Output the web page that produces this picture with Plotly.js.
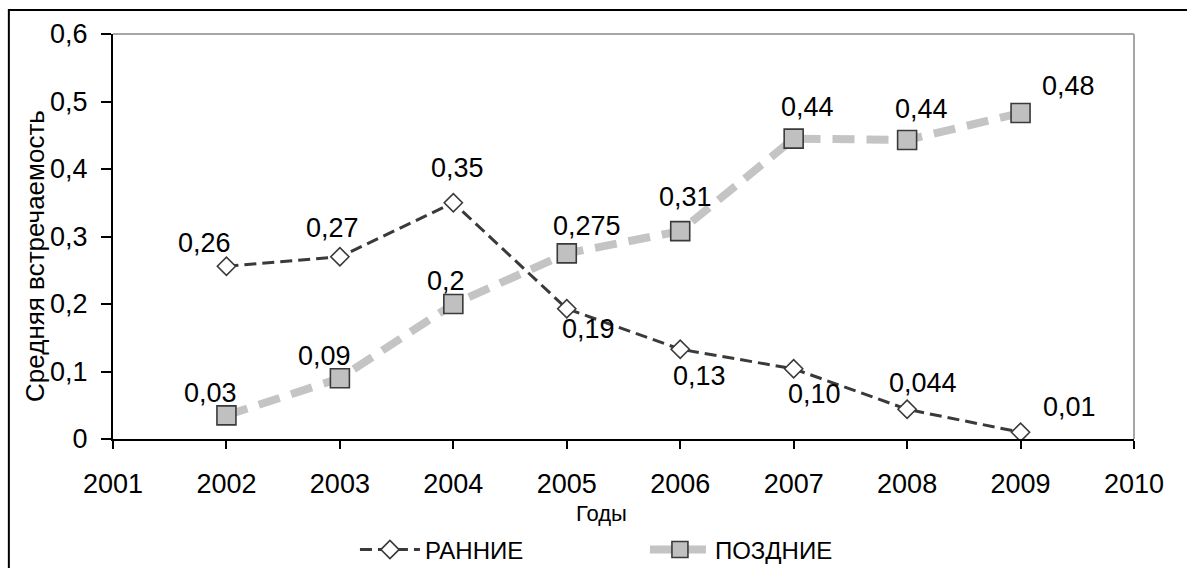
<!DOCTYPE html>
<html>
<head>
<meta charset="utf-8">
<script src="https://cdn.plot.ly/plotly-3.0.1.min.js"></script>
<style>html,body{margin:0;padding:0;background:#fff;}#chart{width:1187px;height:568px;}</style>
</head>
<body>
<div id="chart"></div>
<script>
// ---- data ----
var years = [2002, 2003, 2004, 2005, 2006, 2007, 2008, 2009];
var earlyValues = [0.256, 0.27, 0.35, 0.193, 0.133, 0.104, 0.044, 0.01];
var lateValues = [0.035, 0.09, 0.2, 0.275, 0.308, 0.445, 0.443, 0.483];
var earlyLabels = ["0,26", "0,27", "0,35", "0,19", "0,13", "0,10", "0,044", "0,01"];
var lateLabels = ["0,03", "0,09", "0,2", "0,275", "0,31", "0,44", "0,44", "0,48"];
var seriesNames = ["РАННИЕ", "ПОЗДНИЕ"];
var xTitle = "Годы";
var yTitle = "Средняя встречаемость";

// label offsets (px) – style only
var earlyShift = [[-22, 23], [-7, 29], [4, 35], [22, -20], [19, -27], [21, -25], [16, 26], [49, 25]];
var lateShift = [[-16, 22], [-15, 22], [-7, 23], [20, 27], [5, 34], [14, 32], [14, 31], [48, 27]];

var FONT = "Liberation Sans, Arial, sans-serif";

var traces = [
  {
    x: years, y: earlyValues, name: seriesNames[0], type: "scatter", mode: "lines+markers",
    line: {color: "#3a3a3a", width: 3, dash: "12px,6px"},
    marker: {symbol: "diamond", size: 14, color: "#ffffff", line: {color: "#3a3a3a", width: 1.6}}
  },
  {
    x: years, y: lateValues, name: seriesNames[1], type: "scatter", mode: "lines+markers",
    line: {color: "#c4c4c4", width: 8, dash: "22px,12px"},
    marker: {symbol: "square", size: 19, color: "#c0c0c0", line: {color: "#3a3a3a", width: 1.6}}
  }
];

var annotations = [];
function addLabels(vals, labels, shifts) {
  for (var i = 0; i < years.length; i++) {
    annotations.push({
      x: years[i], y: vals[i], xref: "x", yref: "y", text: labels[i], showarrow: false,
      xshift: shifts[i][0], yshift: shifts[i][1],
      font: {family: FONT, size: 27, color: "#000"}
    });
  }
}
addLabels(earlyValues, earlyLabels, earlyShift);
addLabels(lateValues, lateLabels, lateShift);
annotations.push({
  x: 0.478, y: -0.185, xref: "paper", yref: "paper", text: xTitle, showarrow: false,
  xanchor: "center", yanchor: "middle", font: {family: FONT, size: 22, color: "#000"}
});
annotations.push({
  x: -0.077, y: 0.453, xref: "paper", yref: "paper", text: yTitle, showarrow: false,
  textangle: -90, xanchor: "center", yanchor: "middle", font: {family: FONT, size: 26, color: "#000"}
});

var layout = {
  width: 1187, height: 568,
  margin: {l: 113, r: 53, t: 34, b: 129, autoexpand: false},
  paper_bgcolor: "#ffffff", plot_bgcolor: "#ffffff",
  separators: ", ",
  font: {family: FONT, color: "#000"},
  showlegend: true,
  legend: {
    orientation: "h", x: 0.521, xanchor: "center", y: -0.274, yanchor: "middle",
    font: {family: FONT, size: 24, color: "#000"}, itemwidth: 60, entrywidth: 215,
    bgcolor: "rgba(0,0,0,0)"
  },
  xaxis: {
    range: [2001, 2010], tickmode: "array", tickvals: [2001,2002,2003,2004,2005,2006,2007,2008,2009,2010],
    ticks: "outside", ticklen: 8, tickwidth: 2, tickcolor: "#000",
    showline: true, linecolor: "#000", linewidth: 2, showgrid: false, zeroline: false,
    tickfont: {family: FONT, size: 27, color: "#000"}, ticklabelstandoff: 12, automargin: false
  },
  yaxis: {
    range: [0, 0.6], tickvals: [0, 0.1, 0.2, 0.3, 0.4, 0.5, 0.6],
    ticks: "outside", ticklen: 10, tickwidth: 2, tickcolor: "#000",
    showline: true, linecolor: "#000", linewidth: 2, showgrid: false, zeroline: false,
    tickfont: {family: FONT, size: 27, color: "#000"}, ticklabelstandoff: 8, automargin: false
  },
  shapes: [
    {type: "line", xref: "paper", yref: "paper", x0: 0, x1: 1, y0: 1, y1: 1, line: {color: "#a6a6a6", width: 2}},
    {type: "line", xref: "paper", yref: "paper", x0: 1, x1: 1, y0: 0, y1: 1, line: {color: "#a6a6a6", width: 2}},
    {type: "rect", xref: "paper", yref: "paper", x0: -0.102, x1: 1.1, y0: -0.45, y1: 1.059, line: {color: "#000", width: 2}, fillcolor: "rgba(0,0,0,0)"}
  ],
  annotations: annotations
};

Plotly.newPlot("chart", traces, layout, {displayModeBar: false, staticPlot: true});
</script>
</body>
</html>
